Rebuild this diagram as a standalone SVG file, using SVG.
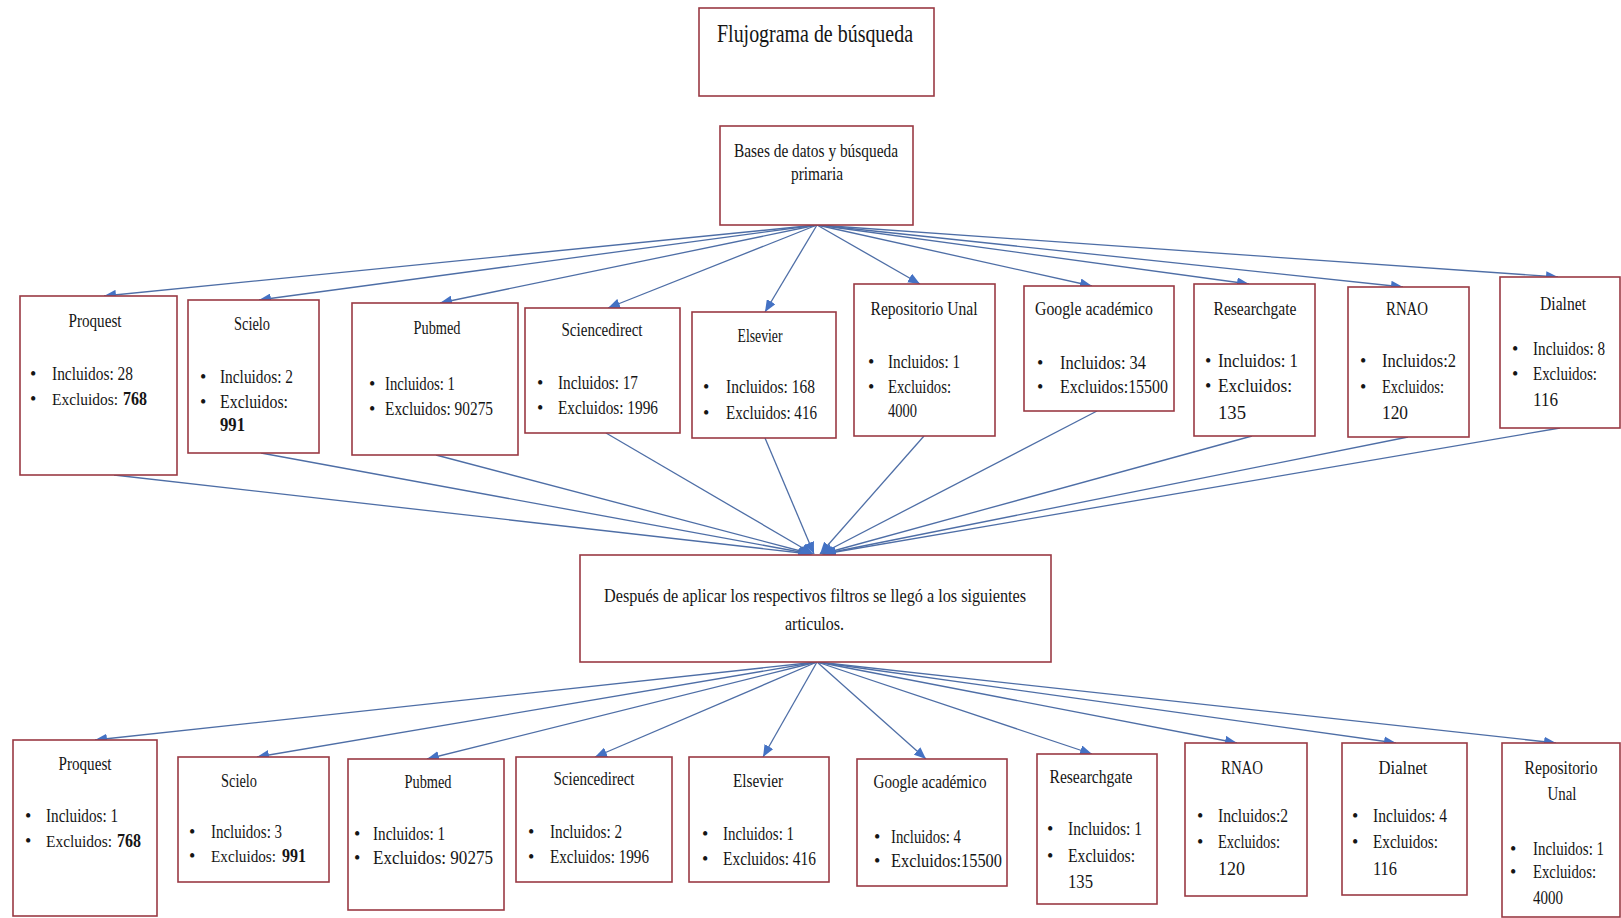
<svg xmlns="http://www.w3.org/2000/svg" width="1621" height="918" viewBox="0 0 1621 918">
<style>
.box{fill:#fff;stroke:#9a3a44;stroke-width:1.6}
.t{font-family:"Liberation Serif","Times New Roman",serif;font-size:18px;fill:#151515}
.s{font-size:16px}
.c{text-anchor:middle}
.b{font-weight:bold}
.ttl{font-size:25px}
.con line{stroke:#4e6ea6;stroke-width:1.3;marker-end:url(#ah)}
</style>
<defs>
<marker id="ah" markerUnits="userSpaceOnUse" markerWidth="12" markerHeight="10" refX="12" refY="5" orient="auto">
<path d="M0,0 L12,5 L0,10 z" fill="#4472c4"/>
</marker>
</defs>
<rect width="1621" height="918" fill="#fff"/>

<g id="connectors" class="con">
<line x1="817" y1="225" x2="104" y2="296"/>
<line x1="817" y1="225" x2="259" y2="300"/>
<line x1="817" y1="225" x2="440" y2="303"/>
<line x1="817" y1="225" x2="608" y2="308"/>
<line x1="817" y1="225" x2="765" y2="312"/>
<line x1="817" y1="225" x2="920" y2="284"/>
<line x1="817" y1="225" x2="1092" y2="286"/>
<line x1="817" y1="225" x2="1249" y2="284"/>
<line x1="817" y1="225" x2="1403" y2="287"/>
<line x1="817" y1="225" x2="1558" y2="277"/>

<line x1="114" y1="475" x2="810" y2="554"/>
<line x1="261" y1="453" x2="811" y2="554"/>
<line x1="436" y1="455" x2="812" y2="554"/>
<line x1="606" y1="433" x2="813" y2="554"/>
<line x1="765" y1="438" x2="814" y2="554"/>
<line x1="924" y1="436" x2="820" y2="554"/>
<line x1="1097" y1="411" x2="821" y2="554"/>
<line x1="1252" y1="436" x2="822" y2="554"/>
<line x1="1408" y1="437" x2="823" y2="554"/>
<line x1="1560" y1="428" x2="824" y2="554"/>

<line x1="817" y1="662" x2="95" y2="740"/>
<line x1="817" y1="662" x2="257" y2="757"/>
<line x1="817" y1="662" x2="427" y2="759"/>
<line x1="817" y1="662" x2="595" y2="757"/>
<line x1="817" y1="662" x2="763" y2="757"/>
<line x1="817" y1="662" x2="926" y2="759"/>
<line x1="817" y1="662" x2="1092" y2="754"/>
<line x1="817" y1="662" x2="1237" y2="743"/>
<line x1="817" y1="662" x2="1396" y2="743"/>
<line x1="817" y1="662" x2="1556" y2="743"/>
</g>

<g id="title">
<rect class="box" x="699" y="8" width="235" height="88"/>
<text class="t ttl" x="717" y="42" textLength="196" lengthAdjust="spacingAndGlyphs">Flujograma de búsqueda</text>
</g>

<g id="bases">
<rect class="box" x="720" y="126" width="193" height="99"/>
<text class="t" x="734" y="157" textLength="164" lengthAdjust="spacingAndGlyphs">Bases de datos y búsqueda</text>
<text class="t" x="791" y="180" textLength="52" lengthAdjust="spacingAndGlyphs">primaria</text>
</g>

<!-- top row -->
<g id="t-proquest">
<rect class="box" x="20" y="296" width="157" height="179"/>
<text class="t c" x="95" y="327" textLength="53" lengthAdjust="spacingAndGlyphs">Proquest</text>
<text class="t" x="30" y="380">•</text><text class="t" x="52" y="380" textLength="81" lengthAdjust="spacingAndGlyphs">Incluidos: 28</text>
<text class="t" x="30" y="405">•</text><text class="t s" x="52" y="405" textLength="66" lengthAdjust="spacingAndGlyphs">Excluidos:</text>
<text class="t b" x="123" y="405" textLength="24" lengthAdjust="spacingAndGlyphs">768</text>
</g>
<g id="t-scielo">
<rect class="box" x="188" y="300" width="131" height="153"/>
<text class="t c" x="252" y="330" textLength="36" lengthAdjust="spacingAndGlyphs">Scielo</text>
<text class="t" x="200" y="383">•</text><text class="t" x="220" y="383" textLength="73" lengthAdjust="spacingAndGlyphs">Incluidos: 2</text>
<text class="t" x="200" y="408">•</text><text class="t" x="220" y="408" textLength="68" lengthAdjust="spacingAndGlyphs">Excluidos:</text>
<text class="t b" x="220" y="431" textLength="25" lengthAdjust="spacingAndGlyphs">991</text>
</g>
<g id="t-pubmed">
<rect class="box" x="352" y="303" width="166" height="152"/>
<text class="t c" x="437" y="334" textLength="47" lengthAdjust="spacingAndGlyphs">Pubmed</text>
<text class="t" x="369" y="390">•</text><text class="t" x="385" y="390" textLength="70" lengthAdjust="spacingAndGlyphs">Incluidos: 1</text>
<text class="t" x="369" y="415">•</text><text class="t" x="385" y="415" textLength="108" lengthAdjust="spacingAndGlyphs">Excluidos: 90275</text>
</g>
<g id="t-sciencedirect">
<rect class="box" x="525" y="308" width="155" height="125"/>
<text class="t c" x="602" y="336" textLength="81" lengthAdjust="spacingAndGlyphs">Sciencedirect</text>
<text class="t" x="537" y="389">•</text><text class="t" x="558" y="389" textLength="80" lengthAdjust="spacingAndGlyphs">Incluidos: 17</text>
<text class="t" x="537" y="414">•</text><text class="t" x="558" y="414" textLength="100" lengthAdjust="spacingAndGlyphs">Excluidos: 1996</text>
</g>
<g id="t-elsevier">
<rect class="box" x="692" y="312" width="144" height="126"/>
<text class="t c" x="760" y="342" textLength="45" lengthAdjust="spacingAndGlyphs">Elsevier</text>
<text class="t" x="703" y="393">•</text><text class="t" x="726" y="393" textLength="89" lengthAdjust="spacingAndGlyphs">Incluidos: 168</text>
<text class="t" x="703" y="419">•</text><text class="t" x="726" y="419" textLength="91" lengthAdjust="spacingAndGlyphs">Excluidos: 416</text>
</g>
<g id="t-repositorio">
<rect class="box" x="854" y="284" width="141" height="152"/>
<text class="t c" x="924" y="315" textLength="107" lengthAdjust="spacingAndGlyphs">Repositorio Unal</text>
<text class="t" x="868" y="368">•</text><text class="t" x="888" y="368" textLength="72" lengthAdjust="spacingAndGlyphs">Incluidos: 1</text>
<text class="t" x="868" y="393">•</text><text class="t" x="888" y="393" textLength="63" lengthAdjust="spacingAndGlyphs">Excluidos:</text>
<text class="t" x="888" y="417" textLength="29" lengthAdjust="spacingAndGlyphs">4000</text>
</g>
<g id="t-google">
<rect class="box" x="1024" y="286" width="150" height="125"/>
<text class="t c" x="1094" y="315" textLength="118" lengthAdjust="spacingAndGlyphs">Google académico</text>
<text class="t" x="1037" y="369">•</text><text class="t" x="1060" y="369" textLength="86" lengthAdjust="spacingAndGlyphs">Incluidos: 34</text>
<text class="t" x="1037" y="393">•</text><text class="t" x="1060" y="393" textLength="108" lengthAdjust="spacingAndGlyphs">Excluidos:15500</text>
</g>
<g id="t-researchgate">
<rect class="box" x="1194" y="284" width="121" height="152"/>
<text class="t c" x="1255" y="315" textLength="83" lengthAdjust="spacingAndGlyphs">Researchgate</text>
<text class="t" x="1205" y="367">•</text><text class="t" x="1218" y="367" textLength="80" lengthAdjust="spacingAndGlyphs">Incluidos: 1</text>
<text class="t" x="1205" y="392">•</text><text class="t" x="1218" y="392" textLength="74" lengthAdjust="spacingAndGlyphs">Excluidos:</text>
<text class="t" x="1218" y="419" textLength="28" lengthAdjust="spacingAndGlyphs">135</text>
</g>
<g id="t-rnao">
<rect class="box" x="1348" y="287" width="121" height="150"/>
<text class="t c" x="1407" y="315" textLength="42" lengthAdjust="spacingAndGlyphs">RNAO</text>
<text class="t" x="1360" y="367">•</text><text class="t" x="1382" y="367" textLength="74" lengthAdjust="spacingAndGlyphs">Incluidos:2</text>
<text class="t" x="1360" y="393">•</text><text class="t" x="1382" y="393" textLength="62" lengthAdjust="spacingAndGlyphs">Excluidos:</text>
<text class="t" x="1382" y="419" textLength="26" lengthAdjust="spacingAndGlyphs">120</text>
</g>
<g id="t-dialnet">
<rect class="box" x="1500" y="277" width="120" height="151"/>
<text class="t c" x="1563" y="310" textLength="46" lengthAdjust="spacingAndGlyphs">Dialnet</text>
<text class="t" x="1512" y="355">•</text><text class="t" x="1533" y="355" textLength="72" lengthAdjust="spacingAndGlyphs">Incluidos: 8</text>
<text class="t" x="1512" y="380">•</text><text class="t" x="1533" y="380" textLength="64" lengthAdjust="spacingAndGlyphs">Excluidos:</text>
<text class="t" x="1533" y="406" textLength="25" lengthAdjust="spacingAndGlyphs">116</text>
</g>

<g id="despues">
<rect class="box" x="580" y="555" width="471" height="107"/>
<text class="t" x="604" y="602" textLength="422" lengthAdjust="spacingAndGlyphs">Después de aplicar  los respectivos filtros se llegó  a los siguientes</text>
<text class="t" x="785" y="630" textLength="59" lengthAdjust="spacingAndGlyphs">articulos.</text>
</g>

<!-- bottom row -->
<g id="b-proquest">
<rect class="box" x="13" y="740" width="144" height="176"/>
<text class="t c" x="85" y="770" textLength="53" lengthAdjust="spacingAndGlyphs">Proquest</text>
<text class="t" x="25" y="822">•</text><text class="t" x="46" y="822" textLength="72" lengthAdjust="spacingAndGlyphs">Incluidos: 1</text>
<text class="t" x="25" y="847">•</text><text class="t s" x="46" y="847" textLength="66" lengthAdjust="spacingAndGlyphs">Excluidos:</text>
<text class="t b" x="117" y="847" textLength="24" lengthAdjust="spacingAndGlyphs">768</text>
</g>
<g id="b-scielo">
<rect class="box" x="178" y="757" width="151" height="125"/>
<text class="t c" x="239" y="787" textLength="36" lengthAdjust="spacingAndGlyphs">Scielo</text>
<text class="t" x="189" y="838">•</text><text class="t" x="211" y="838" textLength="71" lengthAdjust="spacingAndGlyphs">Incluidos: 3</text>
<text class="t" x="189" y="862">•</text><text class="t s" x="211" y="862" textLength="65" lengthAdjust="spacingAndGlyphs">Excluidos:</text>
<text class="t b" x="282" y="862" textLength="24" lengthAdjust="spacingAndGlyphs">991</text>
</g>
<g id="b-pubmed">
<rect class="box" x="348" y="759" width="156" height="151"/>
<text class="t c" x="428" y="788" textLength="47" lengthAdjust="spacingAndGlyphs">Pubmed</text>
<text class="t" x="354" y="840">•</text><text class="t" x="373" y="840" textLength="72" lengthAdjust="spacingAndGlyphs">Incluidos: 1</text>
<text class="t" x="354" y="864">•</text><text class="t" x="373" y="864" textLength="120" lengthAdjust="spacingAndGlyphs">Excluidos: 90275</text>
</g>
<g id="b-sciencedirect">
<rect class="box" x="516" y="757" width="156" height="125"/>
<text class="t c" x="594" y="785" textLength="81" lengthAdjust="spacingAndGlyphs">Sciencedirect</text>
<text class="t" x="528" y="838">•</text><text class="t" x="550" y="838" textLength="72" lengthAdjust="spacingAndGlyphs">Incluidos: 2</text>
<text class="t" x="528" y="863">•</text><text class="t" x="550" y="863" textLength="99" lengthAdjust="spacingAndGlyphs">Excluidos: 1996</text>
</g>
<g id="b-elsevier">
<rect class="box" x="689" y="757" width="140" height="125"/>
<text class="t c" x="758" y="787" textLength="50" lengthAdjust="spacingAndGlyphs">Elsevier</text>
<text class="t" x="702" y="840">•</text><text class="t" x="723" y="840" textLength="71" lengthAdjust="spacingAndGlyphs">Incluidos: 1</text>
<text class="t" x="702" y="865">•</text><text class="t" x="723" y="865" textLength="93" lengthAdjust="spacingAndGlyphs">Excluidos: 416</text>
</g>
<g id="b-google">
<rect class="box" x="857" y="759" width="150" height="127"/>
<text class="t c" x="930" y="788" textLength="113" lengthAdjust="spacingAndGlyphs">Google académico</text>
<text class="t" x="874" y="843">•</text><text class="t" x="891" y="843" textLength="70" lengthAdjust="spacingAndGlyphs">Incluidos: 4</text>
<text class="t" x="874" y="867">•</text><text class="t" x="891" y="867" textLength="111" lengthAdjust="spacingAndGlyphs">Excluidos:15500</text>
</g>
<g id="b-researchgate">
<rect class="box" x="1037" y="754" width="120" height="150"/>
<text class="t c" x="1091" y="783" textLength="83" lengthAdjust="spacingAndGlyphs">Researchgate</text>
<text class="t" x="1047" y="835">•</text><text class="t" x="1068" y="835" textLength="74" lengthAdjust="spacingAndGlyphs">Incluidos: 1</text>
<text class="t" x="1047" y="862">•</text><text class="t" x="1068" y="862" textLength="67" lengthAdjust="spacingAndGlyphs">Excluidos:</text>
<text class="t" x="1068" y="888" textLength="25" lengthAdjust="spacingAndGlyphs">135</text>
</g>
<g id="b-rnao">
<rect class="box" x="1185" y="743" width="122" height="153"/>
<text class="t c" x="1242" y="774" textLength="42" lengthAdjust="spacingAndGlyphs">RNAO</text>
<text class="t" x="1197" y="822">•</text><text class="t" x="1218" y="822" textLength="70" lengthAdjust="spacingAndGlyphs">Incluidos:2</text>
<text class="t" x="1197" y="848">•</text><text class="t" x="1218" y="848" textLength="62" lengthAdjust="spacingAndGlyphs">Excluidos:</text>
<text class="t" x="1218" y="875" textLength="27" lengthAdjust="spacingAndGlyphs">120</text>
</g>
<g id="b-dialnet">
<rect class="box" x="1342" y="743" width="125" height="152"/>
<text class="t c" x="1403" y="774" textLength="49" lengthAdjust="spacingAndGlyphs">Dialnet</text>
<text class="t" x="1352" y="822">•</text><text class="t" x="1373" y="822" textLength="74" lengthAdjust="spacingAndGlyphs">Incluidos: 4</text>
<text class="t" x="1352" y="848">•</text><text class="t" x="1373" y="848" textLength="65" lengthAdjust="spacingAndGlyphs">Excluidos:</text>
<text class="t" x="1373" y="875" textLength="24" lengthAdjust="spacingAndGlyphs">116</text>
</g>
<g id="b-repositorio">
<rect class="box" x="1502" y="743" width="118" height="174"/>
<text class="t c" x="1561" y="774" textLength="73" lengthAdjust="spacingAndGlyphs">Repositorio</text>
<text class="t c" x="1562" y="800" textLength="29" lengthAdjust="spacingAndGlyphs">Unal</text>
<text class="t" x="1510" y="855">•</text><text class="t" x="1533" y="855" textLength="71" lengthAdjust="spacingAndGlyphs">Incluidos: 1</text>
<text class="t" x="1510" y="878">•</text><text class="t" x="1533" y="878" textLength="63" lengthAdjust="spacingAndGlyphs">Excluidos:</text>
<text class="t" x="1533" y="904" textLength="30" lengthAdjust="spacingAndGlyphs">4000</text>
</g>
</svg>
